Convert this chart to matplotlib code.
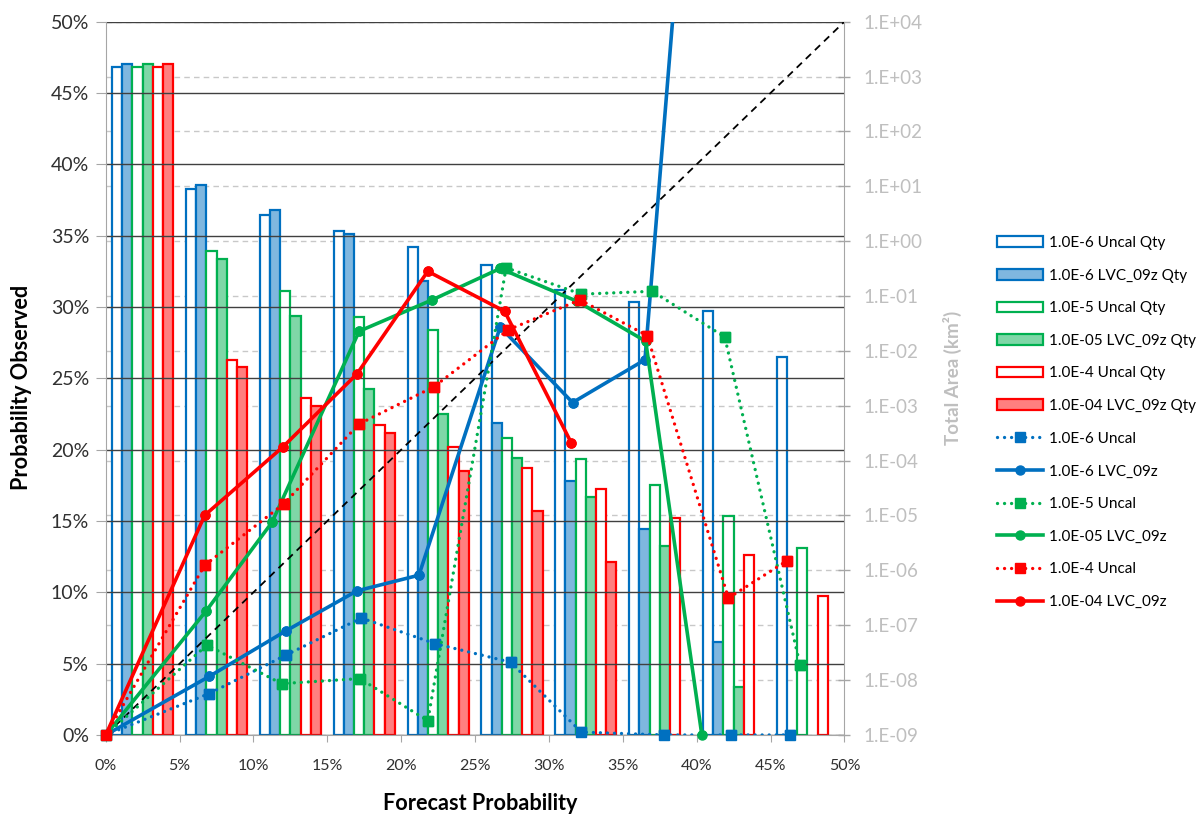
import numpy as np
import matplotlib.pyplot as plt
from matplotlib.ticker import FuncFormatter, MultipleLocator, LogLocator, NullLocator

plt.rcParams['font.family'] = ['Lato', 'DejaVu Sans']

# forecast probability bins (centre of each 5% bin)
bin_centres = [2.5, 7.5, 12.5, 17.5, 22.5, 27.5, 32.5, 37.5, 42.5, 47.5]

# total area in each bin (km^2) -> secondary log axis
qty_uncal_6 = [1.48e3, 8.8, 3.0, 1.55, 0.79, 0.36, 0.13, 0.079, 0.053, 7.8e-3]
qty_lvc_6 = [1.70e3, 10.7, 3.7, 1.35, 0.19, 4.9e-4, 4.3e-5, 5.7e-6, 4.9e-8, np.nan]
qty_uncal_5 = [1.48e3, 0.66, 0.124, 0.042, 0.024, 2.6e-4, 1.09e-4, 3.6e-5, 9.7e-6, 2.56e-6]
qty_lvc_5 = [1.70e3, 0.48, 0.044, 2.0e-3, 7.1e-4, 1.13e-4, 2.2e-5, 2.8e-6, 7.4e-9, np.nan]
qty_uncal_4 = [1.48e3, 6.8e-3, 1.36e-3, 4.5e-4, 1.8e-4, 7.3e-5, 3.1e-5, 9.1e-6, 1.9e-6, 3.4e-7]
qty_lvc_4 = [1.70e3, 5.1e-3, 1.0e-3, 3.15e-4, 6.6e-5, 1.22e-5, 1.4e-6, np.nan, np.nan, np.nan]

# reliability curves: mean forecast prob (%) vs observed prob (%)
uncal6_x = [0, 7.0, 12.2, 17.3, 22.3, 27.4, 32.2, 37.8, 42.3, 46.3]
uncal6_y = [0, 2.9, 5.6, 8.2, 6.4, 5.1, 0.2, 0.0, 0.0, 0.0]
lvc6_x = [0, 7.0, 12.2, 17.0, 21.2, 26.7, 31.6, 36.5, 42.3]
lvc6_y = [0, 4.1, 7.3, 10.1, 11.2, 28.6, 23.3, 26.3, 100.0]
uncal5_x = [0, 6.85, 11.9, 17.2, 21.8, 27.1, 32.2, 37.0, 41.9, 47.0]
uncal5_y = [0, 6.3, 3.6, 3.95, 1.0, 32.75, 30.9, 31.1, 27.9, 4.9]
lvc5_x = [0, 6.8, 11.25, 17.15, 22.1, 26.7, 31.9, 36.55, 40.35]
lvc5_y = [0, 8.7, 14.9, 28.3, 30.5, 32.7, 30.4, 27.6, 0.0]
uncal4_x = [0, 6.7, 12.05, 17.15, 22.2, 27.25, 32.1, 36.65, 42.15, 46.1]
uncal4_y = [0, 11.9, 16.2, 21.8, 24.4, 28.4, 30.5, 28.0, 9.6, 12.2]
lvc4_x = [0, 6.7, 12.0, 17.0, 21.8, 27.0, 31.5]
lvc4_y = [0, 15.4, 20.2, 25.3, 32.5, 29.7, 20.5]

# perfect reliability
diag = [0, 50]

BLUE, GREEN, RED = '#0070C0', '#00B050', '#FF0000'
BLUE_F, GREEN_F, RED_F = '#7FB7DF', '#7FD7A7', '#FF7F7F'
AREA_MIN, AREA_MAX = 1e-9, 1e4

fig = plt.figure(figsize=(12.03, 8.15), dpi=100)
ax = fig.add_axes([0.0879, 0.0982, 0.614, 0.8752])
ax2 = ax.twinx()
ax.set_zorder(ax2.get_zorder() + 1)
ax.patch.set_visible(False)

# --- bars on the log area axis
bar_w = 0.69
bar_sets = [
    (qty_uncal_6, 'white', BLUE, '1.0E-6 Uncal Qty'),
    (qty_lvc_6, BLUE_F, BLUE, '1.0E-6 LVC_09z Qty'),
    (qty_uncal_5, 'white', GREEN, '1.0E-5 Uncal Qty'),
    (qty_lvc_5, GREEN_F, GREEN, '1.0E-05 LVC_09z Qty'),
    (qty_uncal_4, 'white', RED, '1.0E-4 Uncal Qty'),
    (qty_lvc_4, RED_F, RED, '1.0E-04 LVC_09z Qty'),
]
handles = []
for i, (vals, fc, ec, lab) in enumerate(bar_sets):
    xs = np.array(bin_centres) + (i - 2.5) * bar_w
    v = np.array(vals, dtype=float)
    ok = ~np.isnan(v)
    b = ax2.bar(xs[ok], v[ok] - AREA_MIN, bottom=AREA_MIN, width=bar_w,
                facecolor=fc, edgecolor=ec, linewidth=1.6, label=lab)
    handles.append(b)

ax2.set_yscale('log')
ax2.set_ylim(AREA_MIN, AREA_MAX)
ax2.yaxis.set_major_locator(LogLocator(base=10, numticks=30))
ax2.yaxis.set_minor_locator(NullLocator())
ax2.yaxis.set_major_formatter(FuncFormatter(lambda v, p: '1.E%+03d' % round(np.log10(v))))
ax2.yaxis.grid(True, color='#C8C8C8', linestyle=(0, (4, 3)), linewidth=1)
ax2.set_axisbelow(True)
ax2.tick_params(axis='y', direction='inout', length=9, width=1, color='#A6A6A6',
                labelsize=13.5, labelcolor='#BFBFBF', pad=9)
for s in ['top', 'left', 'bottom']:
    ax2.spines[s].set_visible(False)
ax2.spines['right'].set_color('#A6A6A6')
ax2.set_ylabel('Total Area (km²)', fontsize=13.5, fontweight='bold', color='#BFBFBF')
ax2.yaxis.set_label_coords(1.134, 0.5)

# --- reliability lines on the probability axis
ax.plot(diag, diag, color='black', linestyle=(0, (4, 3)), linewidth=1.3, zorder=3)

dot = (0, (0.01, 2.1))
line_sets = [
    (uncal6_x, uncal6_y, BLUE, dot, 's', 7, '1.0E-6 Uncal'),
    (lvc6_x, lvc6_y, BLUE, '-', 'o', 6.5, '1.0E-6 LVC_09z'),
    (uncal5_x, uncal5_y, GREEN, dot, 's', 7, '1.0E-5 Uncal'),
    (lvc5_x, lvc5_y, GREEN, '-', 'o', 6.5, '1.0E-05 LVC_09z'),
    (uncal4_x, uncal4_y, RED, dot, 's', 7, '1.0E-4 Uncal'),
    (lvc4_x, lvc4_y, RED, '-', 'o', 6.5, '1.0E-04 LVC_09z'),
]
for xs, ys, c, ls, mk, ms, lab in line_sets:
    lw = 2.4 if ls is dot else 2.6
    ln, = ax.plot(xs, ys, color=c, linestyle=ls, linewidth=lw, marker=mk,
                  markersize=ms, dash_capstyle='round', label=lab, zorder=4)
    handles.append(ln)
    # markers sitting on the 0% line are drawn whole
    xa, ya = np.array(xs), np.array(ys)
    inside = ya <= 50
    ax.plot(xa[inside], ya[inside], linestyle='none', marker=mk, markersize=ms,
            color=c, clip_on=False, zorder=4)

ax.set_xlim(0, 50)
ax.set_ylim(0, 50)
ax.xaxis.set_major_locator(MultipleLocator(5))
ax.yaxis.set_major_locator(MultipleLocator(5))
ax.xaxis.set_major_formatter(FuncFormatter(lambda v, p: '%d%%' % round(v)))
ax.yaxis.set_major_formatter(FuncFormatter(lambda v, p: '%d%%' % round(v)))
ax.yaxis.grid(True, color='#404040', linewidth=1)
ax.set_axisbelow(True)
for s in ['top', 'right']:
    ax.spines[s].set_visible(False)
for s in ['left', 'bottom']:
    ax.spines[s].set_color('#A6A6A6')
ax.tick_params(axis='y', direction='out', length=7, color='#A6A6A6',
               labelsize=14, labelcolor='#303030', pad=5)
ax.tick_params(axis='x', direction='out', length=5, color='#A6A6A6',
               labelsize=11.5, labelcolor='#303030', pad=12)

ax.set_xlabel('Forecast Probability', fontsize=15.6, fontweight='bold', color='black')
ax.xaxis.set_label_coords(0.507, -0.081)
ax.set_ylabel('Probability Observed', fontsize=15.6, fontweight='bold', color='black')
ax.yaxis.set_label_coords(-0.1, 0.488)

fig.legend(handles, [h.get_label() for h in handles], loc='upper left',
           bbox_to_anchor=(0.8288, 0.7105), frameon=False, fontsize=11,
           handlelength=3.0, handletextpad=0.4, labelspacing=1.22,
           borderpad=0, borderaxespad=0)

fig.savefig('out.png', dpi=100)
